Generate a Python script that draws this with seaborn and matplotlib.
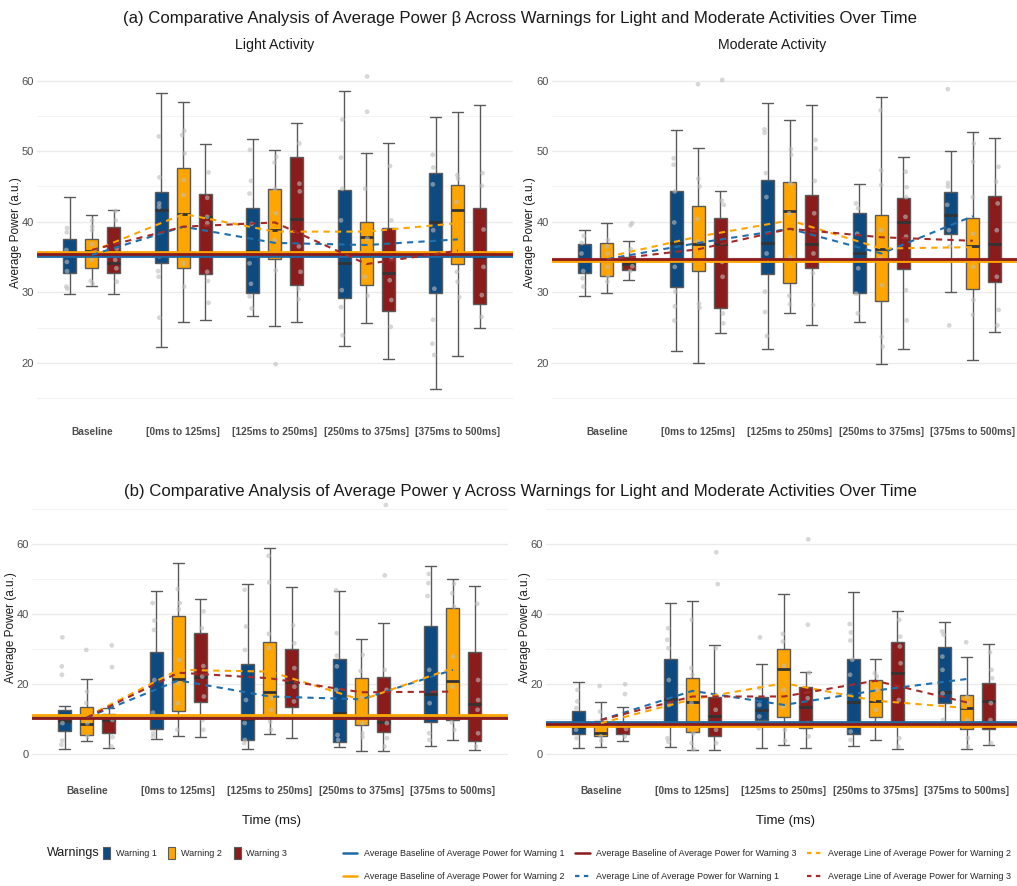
import numpy as np
import pandas as pd
import seaborn as sns
import matplotlib
matplotlib.use("Agg")
import matplotlib.pyplot as plt
from matplotlib.lines import Line2D
from matplotlib.patches import Patch

# ---------------- data ----------------
categories = ["Baseline", "[0ms to 125ms]", "[125ms to 250ms]", "[250ms to 375ms]", "[375ms to 500ms]"]
warnings = ["Warning 1", "Warning 2", "Warning 3"]

# box summaries per category: [lower whisker, Q1, median, Q3, upper whisker]
beta_light_w1 = [[29.7, 32.8, 35.3, 37.6, 43.5], [22.2, 34.1, 41.6, 44.2, 58.3], [26.7, 29.9, 35.8, 42.0, 51.8],
                 [22.4, 29.2, 34.1, 44.5, 58.5], [16.3, 29.9, 40.0, 46.9, 54.8]]
beta_light_w2 = [[30.9, 33.5, 35.9, 37.5, 40.9], [25.8, 33.5, 41.1, 47.6, 57.0], [25.2, 34.7, 38.8, 44.6, 50.2],
                 [25.6, 31.0, 37.9, 40.0, 49.7], [20.9, 34.0, 41.6, 45.2, 55.6]]
beta_light_w3 = [[29.7, 32.8, 34.1, 39.3, 41.7], [26.1, 32.6, 40.7, 43.9, 51.0], [25.8, 31.0, 40.4, 49.2, 54.0],
                 [20.5, 27.4, 32.8, 39.1, 51.2], [25.0, 28.4, 35.0, 42.0, 56.5]]

beta_moderate_w1 = [[29.5, 32.7, 34.6, 36.8, 38.8], [21.7, 30.8, 37.0, 44.3, 53.0], [21.9, 32.6, 37.0, 45.9, 56.9],
                    [25.8, 29.9, 35.6, 41.2, 45.3], [30.0, 38.3, 41.0, 44.2, 50.1]]
beta_moderate_w2 = [[29.9, 32.3, 34.5, 37.0, 39.8], [20.0, 33.0, 36.9, 42.3, 50.4], [27.1, 31.3, 41.5, 45.7, 54.5],
                    [19.8, 28.7, 36.1, 40.9, 57.7], [20.4, 30.5, 36.5, 40.6, 52.7]]
beta_moderate_w3 = [[31.7, 33.1, 34.0, 35.0, 37.3], [24.2, 27.8, 36.8, 40.5, 44.4], [25.4, 33.4, 36.9, 43.8, 56.5],
                    [22.0, 33.3, 40.0, 43.4, 49.2], [24.4, 31.5, 36.9, 43.6, 51.9]]

gamma_light_w1 = [[1.2, 6.5, 9.3, 12.5, 13.5], [4.1, 7.0, 10.8, 29.0, 46.4], [1.2, 3.9, 9.8, 25.5, 48.5],
                  [2.0, 3.2, 11.5, 27.0, 46.4], [2.2, 9.0, 17.0, 36.4, 53.6]]
gamma_light_w2 = [[3.6, 5.3, 8.5, 13.2, 21.4], [5.1, 12.2, 21.2, 39.4, 54.5], [5.5, 11.0, 17.5, 32.0, 58.6],
                  [0.8, 8.1, 10.3, 21.5, 32.6], [3.9, 9.6, 20.8, 41.7, 50.0]]
gamma_light_w3 = [[1.5, 6.0, 9.7, 11.2, 12.9], [4.7, 14.6, 22.0, 34.4, 44.1], [4.4, 13.4, 20.4, 29.9, 47.5],
                  [0.8, 6.1, 9.0, 21.8, 37.4], [1.1, 3.6, 14.1, 29.1, 47.8]]

gamma_moderate_w1 = [[1.6, 5.5, 7.5, 12.2, 20.5], [1.9, 9.0, 15.5, 27.0, 42.9], [1.5, 9.6, 12.5, 16.1, 25.6],
                     [2.1, 5.6, 14.8, 27.1, 46.2], [8.0, 14.4, 17.5, 30.5, 37.7]]
gamma_moderate_w2 = [[1.8, 5.0, 6.0, 9.4, 14.8], [1.0, 6.1, 14.8, 21.5, 43.5], [2.5, 10.3, 24.1, 30.0, 45.6],
                     [4.0, 10.3, 15.0, 20.9, 27.0], [1.3, 7.1, 13.1, 16.7, 27.5]]
gamma_moderate_w3 = [[3.7, 5.5, 7.9, 8.7, 13.2], [1.0, 5.0, 10.6, 16.1, 31.0], [1.5, 7.4, 13.4, 18.9, 23.2],
                     [1.2, 8.7, 23.0, 32.0, 40.6], [2.5, 7.0, 15.0, 20.1, 31.3]]

# individual participant points (grey dots)
beta_light_pts_w1 = [[39.1, 38.5, 36.0, 34.3, 33.0, 30.8, 30.5], [52.1, 46.3, 42.6, 42.1, 35.1, 33.0, 32.2, 26.4],
                     [50.2, 45.8, 44.0, 39.7, 34.1, 31.2, 29.4, 27.7], [54.5, 49.1, 44.7, 40.2, 30.3, 27.9, 23.9],
                     [49.5, 47.7, 45.3, 38.8, 30.5, 26.1, 22.7, 21.1]]
beta_light_pts_w2 = [[40.2, 39.3, 38.8, 36.8, 34.6, 31.6, 31.2], [52.9, 52.3, 49.7, 45.9, 43.8, 34.1, 30.8],
                     [49.2, 48.4, 44.7, 41.2, 37.4, 33.1, 19.8], [60.6, 55.6, 44.7, 37.6, 32.2, 29.5],
                     [46.6, 46.1, 42.8, 35.5, 32.9, 31.5, 29.3]]
beta_light_pts_w3 = [[41.5, 40.2, 36.2, 34.6, 33.4, 31.5], [47.0, 43.4, 40.7, 39.8, 32.9, 31.6, 28.5],
                     [51.1, 45.4, 44.3, 36.5, 32.9, 30.5, 29.0], [47.9, 40.2, 35.0, 31.7, 28.9, 25.1],
                     [46.9, 45.1, 38.9, 33.6, 29.6, 26.5]]

beta_moderate_pts_w1 = [[38.0, 37.0, 35.5, 33.0, 32.0, 30.8], [49.0, 48.1, 44.3, 39.9, 33.6, 30.1, 28.0, 26.0],
                        [53.1, 52.6, 46.9, 43.5, 35.5, 30.1, 27.2, 23.8], [42.6, 41.9, 38.3, 33.4, 29.8, 27.0],
                        [58.8, 45.5, 45.0, 42.4, 38.8, 36.5, 25.3]]
beta_moderate_pts_w2 = [[37.4, 36.5, 35.5, 33.6, 32.2, 31.5], [59.5, 46.1, 45.0, 40.4, 37.2, 28.4, 27.8],
                        [50.3, 49.5, 45.4, 41.2, 35.0, 29.5, 28.3], [55.8, 47.3, 45.2, 38.8, 34.8, 31.0, 23.7, 22.3],
                        [51.1, 48.5, 43.5, 38.3, 33.6, 28.9, 26.8]]
beta_moderate_pts_w3 = [[39.8, 39.5, 36.1, 33.7, 33.0], [60.1, 43.0, 42.4, 34.3, 32.2, 27.0, 25.6],
                        [51.6, 50.4, 45.8, 41.2, 35.5, 32.7, 28.2], [47.1, 44.9, 43.5, 40.7, 37.9, 30.3, 26.0],
                        [47.8, 45.7, 42.6, 38.8, 32.2, 27.5, 25.3]]

gamma_light_pts_w1 = [[33.2, 24.9, 22.5, 8.7, 3.7, 2.5], [43.0, 38.0, 35.3, 21.0, 11.7, 5.8, 4.9],
                      [46.8, 36.3, 29.6, 15.3, 8.7, 3.9, 3.0], [46.6, 34.4, 28.0, 24.9, 18.2, 5.3, 3.9],
                      [51.3, 48.7, 45.0, 23.9, 14.4, 5.8, 3.9]]
gamma_light_pts_w2 = [[29.6, 17.7, 14.4, 8.7, 4.9], [47.0, 43.0, 41.2, 26.8, 20.1, 14.4, 6.8],
                      [56.5, 48.9, 34.2, 30.1, 15.8, 12.5, 9.1, 6.8], [28.2, 23.6, 15.8, 8.7, 5.8, 4.7],
                      [48.5, 45.8, 42.0, 27.7, 19.1, 8.9, 6.8]]
gamma_light_pts_w3 = [[30.9, 24.7, 9.6, 4.7, 2.0], [40.6, 35.8, 25.0, 22.0, 16.3, 9.6, 6.8],
                      [36.6, 31.5, 24.4, 19.1, 14.9, 10.6], [71.0, 50.9, 23.9, 18.2, 8.7, 4.4, 2.0],
                      [42.8, 21.0, 15.3, 12.5, 5.8, 2.0]]

gamma_moderate_pts_w1 = [[18.2, 14.9, 13.0, 6.8, 4.4], [35.8, 32.5, 30.1, 21.0, 13.9, 4.4, 3.4],
                         [33.2, 18.7, 13.9, 10.6, 7.2], [37.0, 34.6, 32.3, 26.8, 22.5, 6.3, 3.9],
                         [34.9, 33.9, 27.7, 23.9, 17.2, 9.6]]
gamma_moderate_pts_w2 = [[19.3, 12.0, 9.6, 4.9, 3.7], [38.2, 24.4, 22.5, 14.4, 5.8, 3.0, 1.2],
                         [34.2, 32.0, 25.1, 18.2, 13.4, 6.8, 3.7], [23.0, 22.0, 18.2, 12.5, 8.7],
                         [31.8, 16.1, 14.4, 9.6, 4.4, 2.0]]
gamma_moderate_pts_w3 = [[19.8, 17.0, 8.2, 7.0, 4.9], [57.5, 48.4, 30.1, 12.5, 6.8, 3.0],
                         [61.2, 36.8, 23.1, 15.8, 8.7, 4.9], [38.2, 33.4, 30.6, 25.8, 15.3, 4.4, 2.0],
                         [28.9, 23.9, 21.5, 14.4, 9.6, 3.0]]

# average line per warning over time (dashed)
beta_light_mean_w1 = [35.3, 39.3, 37.0, 36.7, 37.5]
beta_light_mean_w2 = [35.8, 41.1, 38.6, 38.6, 39.8]
beta_light_mean_w3 = [36.0, 39.3, 39.9, 34.0, 35.9]
beta_moderate_mean_w1 = [34.7, 37.0, 39.0, 35.5, 40.8]
beta_moderate_mean_w2 = [35.0, 37.9, 40.2, 36.2, 36.4]
beta_moderate_mean_w3 = [34.6, 36.1, 39.0, 37.8, 37.3]
gamma_light_mean_w1 = [10.3, 20.9, 16.3, 15.5, 23.9]
gamma_light_mean_w2 = [10.6, 23.9, 23.4, 15.3, 24.4]
gamma_light_mean_w3 = [10.3, 23.1, 21.5, 17.5, 17.7]
gamma_moderate_mean_w1 = [9.6, 17.9, 13.9, 18.0, 21.3]
gamma_moderate_mean_w2 = [8.7, 15.5, 20.1, 15.1, 13.0]
gamma_moderate_mean_w3 = [9.6, 16.3, 16.3, 20.8, 14.6]

# average baseline per warning (solid horizontal) [W1, W2, W3]
beta_light_base = [35.2, 35.7, 35.4]
beta_moderate_base = [34.55, 34.4, 34.7]
gamma_light_base = [10.4, 10.9, 10.2]
gamma_moderate_base = [8.9, 7.9, 8.4]

# ---------------- style ----------------
sns.set_theme(style="white")
plt.rcParams["font.family"] = ["Liberation Sans", "DejaVu Sans"]

box_colors = ["#0D4A80", "#FFA500", "#8A1C1C"]
base_colors = ["#1F6AA5", "#FFA500", "#8B1A1A"]
mean_colors = ["#1F6FAF", "#FFA500", "#A52A2A"]
TXT = "#4D4D4D"

W, H = 1017, 886
fig = plt.figure(figsize=(W / 100, H / 100), dpi=100)


def ax_at(left, top, width, bottom):
    return fig.add_axes([left / W, 1 - bottom / H, width / W, (bottom - top) / H])


def draw_panel(ax, boxes, points, means, base, ylim, major, minor):
    rows = [(categories[i], warnings[k], v)
            for k, b in enumerate(boxes) for i, five in enumerate(b) for v in five]
    box_df = pd.DataFrame(rows, columns=["Time", "Warning", "Power"])
    sns.boxplot(data=box_df, x="Time", y="Power", hue="Warning", order=categories, hue_order=warnings,
                palette=box_colors, whis=np.inf, width=0.72, gap=0.41, linecolor="#5A5A5A",
                linewidth=1.0, showfliers=False, saturation=1,
                medianprops=dict(color="#333333", linewidth=2.0),
                capwidths=0.12, legend=False, ax=ax)
    prow = [(categories[i], warnings[k], v)
            for k, p in enumerate(points) for i, vals in enumerate(p) for v in vals]
    pts_df = pd.DataFrame(prow, columns=["Time", "Warning", "Power"])
    sns.stripplot(data=pts_df, x="Time", y="Power", hue="Warning", order=categories, hue_order=warnings,
                  palette=["#BDBDBD"] * 3, dodge=True, jitter=0.045, size=3.4, alpha=0.6,
                  linewidth=0, legend=False, ax=ax, zorder=3)
    for k in range(3):
        ax.axhline(base[k], color=base_colors[k], linewidth=2.0, zorder=4)
    xs = np.arange(len(categories))
    for k in range(3):
        ax.plot(xs, means[k], color=mean_colors[k], linestyle=(0, (3, 2.5)), linewidth=1.5, zorder=5)
    ax.set_xlim(-0.6, 4.6)
    ax.set_ylim(*ylim)
    ax.set_yticks(major)
    ax.set_yticks(minor, minor=True)
    ax.yaxis.grid(True, which="major", color="#EBEBEB", linewidth=1.0)
    ax.yaxis.grid(True, which="minor", color="#F3F3F3", linewidth=0.8)
    ax.xaxis.grid(False)
    ax.set_axisbelow(True)
    for s in ax.spines.values():
        s.set_visible(False)
    ax.tick_params(axis="x", length=0, pad=16.5, labelsize=7.3, labelcolor=TXT)
    ax.tick_params(axis="y", which="both", length=0, pad=2, labelsize=8, labelcolor=TXT)
    for lab in ax.get_xticklabels():
        lab.set_fontweight("bold")
    ax.set_xlabel("")
    ax.set_ylabel("")


ax1 = ax_at(37, 61, 475.8, 404)
ax2 = ax_at(552, 61, 475.8, 404)
ax3 = ax_at(32, 498, 475.8, 763)
ax4 = ax_at(546, 498, 475.8, 763)

beta_major, beta_minor = [20, 30, 40, 50, 60], [15, 25, 35, 45, 55]
gamma_major, gamma_minor = [0, 20, 40, 60], [10, 30, 50, 70]

draw_panel(ax1, [beta_light_w1, beta_light_w2, beta_light_w3],
           [beta_light_pts_w1, beta_light_pts_w2, beta_light_pts_w3],
           [beta_light_mean_w1, beta_light_mean_w2, beta_light_mean_w3], beta_light_base,
           (14.15, 62.8), beta_major, beta_minor)
draw_panel(ax2, [beta_moderate_w1, beta_moderate_w2, beta_moderate_w3],
           [beta_moderate_pts_w1, beta_moderate_pts_w2, beta_moderate_pts_w3],
           [beta_moderate_mean_w1, beta_moderate_mean_w2, beta_moderate_mean_w3], beta_moderate_base,
           (14.15, 62.8), beta_major, beta_minor)
draw_panel(ax3, [gamma_light_w1, gamma_light_w2, gamma_light_w3],
           [gamma_light_pts_w1, gamma_light_pts_w2, gamma_light_pts_w3],
           [gamma_light_mean_w1, gamma_light_mean_w2, gamma_light_mean_w3], gamma_light_base,
           (-2.7, 73.0), gamma_major, gamma_minor)
draw_panel(ax4, [gamma_moderate_w1, gamma_moderate_w2, gamma_moderate_w3],
           [gamma_moderate_pts_w1, gamma_moderate_pts_w2, gamma_moderate_pts_w3],
           [gamma_moderate_mean_w1, gamma_moderate_mean_w2, gamma_moderate_mean_w3], gamma_moderate_base,
           (-2.7, 73.0), gamma_major, gamma_minor)

# ---------------- texts ----------------
def ftext(x, y, s, **kw):
    fig.text(x / W, 1 - y / H, s, **kw)

ftext(520, 18, "(a) Comparative Analysis of Average Power \u03b2 Across Warnings for Light and Moderate Activities Over Time",
      ha="center", va="center", fontsize=12.1, color="#1A1A1A")
ftext(520, 492, "(b) Comparative Analysis of Average Power \u03b3 Across Warnings for Light and Moderate Activities Over Time",
      ha="center", va="center", fontsize=12.1, color="#1A1A1A")
ftext(275, 45, "Light Activity", ha="center", va="center", fontsize=10.2, color="#1A1A1A")
ftext(772, 45, "Moderate Activity", ha="center", va="center", fontsize=10.2, color="#1A1A1A")
for (x, y) in [(16, 233), (530, 233), (11, 628), (525, 628)]:
    ftext(x, y, "Average Power (a.u.)", ha="center", va="center", rotation=90, fontsize=8.5, color="#1A1A1A")
ftext(271, 821, "Time (ms)", ha="center", va="center", fontsize=9.5, color="#1A1A1A")
ftext(785, 821, "Time (ms)", ha="center", va="center", fontsize=9.5, color="#1A1A1A")

# ---------------- legends ----------------
ftext(47, 853, "Warnings", ha="left", va="center", fontsize=9, color="#1A1A1A")
box_handles = [Patch(facecolor=c, edgecolor="#5A5A5A", linewidth=0.8) for c in box_colors]
fig.legend(box_handles, warnings, loc="center left", bbox_to_anchor=(103 / W, 1 - 853 / H), ncol=3,
           frameon=False, fontsize=6.5, handlelength=0.8, handleheight=1.6, handletextpad=0.6,
           columnspacing=1.3, borderpad=0, borderaxespad=0)

line_labels = ["Average Baseline of Average Power for Warning 1", "Average Baseline of Average Power for Warning 2",
               "Average Baseline of Average Power for Warning 3", "Average Line of Average Power for Warning 1",
               "Average Line of Average Power for Warning 2", "Average Line of Average Power for Warning 3"]
line_handles = [Line2D([], [], color=c, linewidth=1.8) for c in base_colors] + \
               [Line2D([], [], color=c, linewidth=1.6, linestyle=(0, (2, 2))) for c in mean_colors]
fig.legend(line_handles, line_labels, loc="center left", bbox_to_anchor=(343 / W, 1 - 865 / H), ncol=3,
           frameon=False, fontsize=6.5, handlelength=1.6, handletextpad=0.7, columnspacing=1.2,
           labelspacing=1.6, borderpad=0, borderaxespad=0)

fig.savefig("out.png", dpi=100)
